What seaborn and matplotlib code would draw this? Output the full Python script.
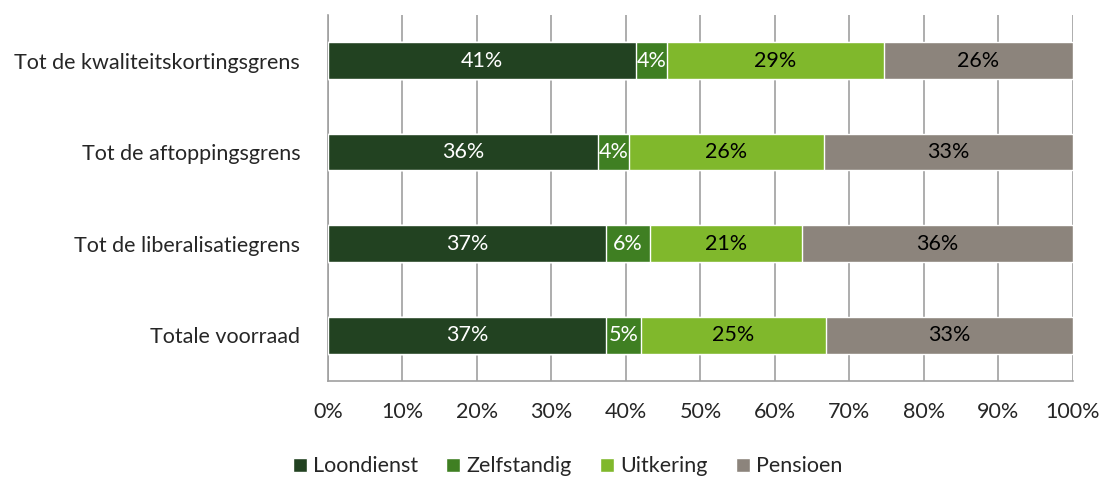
import numpy as np
import pandas as pd
import matplotlib.pyplot as plt
from matplotlib.patches import Patch
import seaborn as sns

# Data
categories = ['Tot de kwaliteitskortingsgrens', 'Tot de aftoppingsgrens',
              'Tot de liberalisatiegrens', 'Totale voorraad']
loondienst = [41.3, 36.2, 37.3, 37.3]
zelfstandig = [4.2, 4.2, 5.9, 4.7]
uitkering = [29.1, 26.2, 20.4, 24.8]
pensioen = [25.4, 33.4, 36.4, 33.2]
series_names = ['Loondienst', 'Zelfstandig', 'Uitkering', 'Pensioen']
labels = [['41%', '36%', '37%', '37%'],
          ['4%', '4%', '6%', '5%'],
          ['29%', '26%', '21%', '25%'],
          ['26%', '33%', '36%', '33%']]

colors = ['#224221', '#3f7f22', '#80b82c', '#8c847c']
text_colors = ['white', 'white', 'black', 'black']

sns.set_style('white')
plt.rcParams['font.family'] = ['Lato', 'DejaVu Sans']
fs = 15.5

series = [loondienst, zelfstandig, uitkering, pensioen]
cum = np.cumsum(np.array(series), axis=0)
df = pd.DataFrame({'categorie': categories})
for name, c in zip(series_names, cum):
    df[name] = c

fig = plt.figure(figsize=(11.02, 4.78), dpi=100)
ax = fig.add_axes([0.2976, 0.203, 0.676, 0.766])

# draw largest cumulative first, smaller ones on top
for i in reversed(range(len(series_names))):
    sns.barplot(data=df, x=series_names[i], y='categorie', color=colors[i],
                width=0.4, ax=ax, saturation=1, orient='h', zorder=3)

for i in range(len(series_names)):
    starts = cum[i] - np.array(series[i])
    for j in range(len(categories)):
        ax.text(starts[j] + series[i][j] / 2, j, labels[i][j],
                ha='center', va='center', fontsize=fs,
                color=text_colors[i], zorder=5)

ax.set_xlim(0, 100)
ax.set_ylim(3.5, -0.5)
ax.set_xticks(np.arange(0, 101, 10))
ax.set_xticklabels(['{}%'.format(x) for x in range(0, 101, 10)], fontsize=fs)
ax.set_yticks(range(len(categories)))
ax.set_yticklabels(categories, fontsize=fs)
ax.set_xlabel('')
ax.set_ylabel('')
ax.grid(axis='x', color='#a0a0a0', linewidth=1.2, zorder=0)
ax.set_axisbelow(True)

for s in ['top', 'right']:
    ax.spines[s].set_visible(False)
for s in ['left', 'bottom']:
    ax.spines[s].set_color('#a0a0a0')
    ax.spines[s].set_linewidth(1.2)

ax.tick_params(axis='y', length=0, pad=20)
ax.tick_params(axis='x', length=5, color='#a0a0a0', width=1.2, pad=10,
               direction='out')
# small ticks at category boundaries on the y axis
ax.set_yticks([0.5, 1.5, 2.5, -0.5], minor=True)
ax.tick_params(axis='y', which='minor', length=5, color='#a0a0a0', width=1.2)

handles = [Patch(facecolor=c, label=n) for c, n in zip(colors, series_names)]
fig.legend(handles=handles, loc='lower center', ncol=4, frameon=False,
           fontsize=fs, bbox_to_anchor=(0.515, -0.037), handlelength=0.65,
           handleheight=0.65, handletextpad=0.3, columnspacing=1.3)

fig.savefig('out.png', dpi=100)
